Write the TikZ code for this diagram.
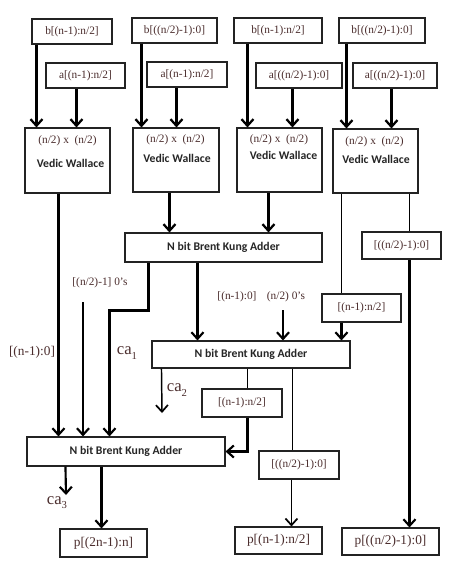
\documentclass[tikz,border=0pt]{standalone}
\usepackage{fontspec}
\setmainfont{Liberation Serif}
\newfontfamily\boldsans{Carlito}
\usetikzlibrary{arrows.meta,calc}
\definecolor{txt}{RGB}{75,45,45}
\definecolor{edge}{RGB}{35,35,35}
\newcommand\casub[1]{ca\raisebox{-0.55ex}{\fontsize{8}{8}\selectfont #1}}
\begin{document}
\begin{tikzpicture}[x=0.75pt,y=-0.75pt,
  bx/.style 2 args={draw=edge,line width=0.8pt,inner sep=0pt,minimum width=#1*0.75pt,minimum height=#2*0.75pt},
  lbl/.style={text=txt,font=\fontsize{8.5}{10}\selectfont},
  bold/.style={text=black!85,font=\boldsans\bfseries\fontsize{8.8}{10}\selectfont},
  big/.style={text=txt,font=\fontsize{10}{12}\selectfont},
  catxt/.style={text=txt,font=\fontsize{12.5}{14}\selectfont},
  arr/.style={-{Straight Barb[length=5pt,width=9pt,line width=1.7pt]},line width=1.8pt,draw=black},
  marr/.style={-{Straight Barb[length=5pt,width=9pt,line width=1.6pt]},line width=1.6pt,draw=black},
  tarr/.style={-{Straight Barb[length=5pt,width=9pt,line width=1.3pt]},line width=1.1pt,draw=black},
  ln/.style={line width=1.1pt,draw=black}]
\useasboundingbox (0,0) rectangle (474,565);
\fill[white] (0,0) rectangle (474,565);
% input boxes
\node[bx={80}{25},lbl] (b1) at (72,31.5) {b[(n-1):n/2]};
\node[bx={79}{25},lbl] (a1) at (85.5,75.5) {a[(n-1):n/2]};
\node[bx={85}{25},lbl] (b2) at (174.5,30.5) {b[((n/2)-1):0]};
\node[bx={80}{25},lbl] (a2) at (187,74.5) {a[(n-1):n/2]};
\node[bx={88}{25},lbl] (b3) at (278,30.5) {b[(n-1):n/2]};
\node[bx={86}{25},lbl] (a3) at (299,75.5) {a[((n/2)-1):0]};
\node[bx={86}{25},lbl] (b4) at (382,30.5) {b[((n/2)-1):0]};
\node[bx={84}{25},lbl] (a4) at (395,75.5) {a[((n/2)-1):0]};
% Vedic Wallace boxes
\node[bx={85}{65}] (vw1) at (67.5,160.5) {};
\node[bx={86}{64}] (vw2) at (176,160) {};
\node[bx={85}{64}] (vw3) at (279.5,160) {};
\node[bx={85}{64}] (vw4) at (375.5,161) {};
\node[lbl] (vw1a) at (67.5,141) {(n/2) x~ (n/2)};
\node[bold] (vw1b) at (70.5,163) {Vedic Wallace};
\node[lbl] (vw2a) at (175.5,140) {(n/2) x~ (n/2)};
\node[bold] (vw2b) at (177,158) {Vedic Wallace};
\node[lbl] (vw3a) at (279,140) {(n/2) x~ (n/2)};
\node[bold] (vw3b) at (283.5,155) {Vedic Wallace};
\node[lbl] (vw4a) at (374.5,142) {(n/2) x~ (n/2)};
\node[bold] (vw4b) at (376,159) {Vedic Wallace};
% adders
\node[bx={197}{29},bold] (bk1) at (223.5,247.5) {N bit Brent Kung Adder};
\node[bx={198}{27},bold] (bk2) at (251,354.5) {N bit Brent Kung Adder};
\node[bx={198}{29},bold] (bk3) at (126,451.5) {N bit Brent Kung Adder};
% intermediate boxes
\node[bx={79}{27},lbl] (r1) at (401.5,245.5) {[((n/2)-1):0]};
\node[bx={79}{28},lbl] (r2) at (361.5,308) {[(n-1):n/2]};
\node[bx={80}{28},lbl] (m1) at (242,403) {[(n-1):n/2]};
\node[bx={80}{28},lbl] (m2) at (299,465) {[((n/2)-1):0]};
% outputs
\node[bx={87}{28},big] (p1) at (103.5,543) {p[(2n-1):n]};
\node[bx={87}{27},big] (p2) at (278.5,540.5) {p[(n-1):n/2]};
\node[bx={97}{27},big] (p3) at (390.5,541.5) {p[((n/2)-1):0]};
% free labels
\node[big] (l1) at (32,352) {[(n-1):0]};
\node[lbl] (l2) at (100,283) {[(n/2)-1] 0's};
\node[lbl] (l3) at (237,297) {[(n-1):0]};
\node[lbl] (l4) at (286,297) {(n/2) 0's};
\node[catxt] (ca1) at (127,353) {\casub{1}};
\node[catxt] (ca2) at (177,390) {\casub{2}};
\node[catxt] (ca3) at (57,503) {\casub{3}};
\coordinate (z1) at (83,302);
\coordinate (z2) at (283,310);
\coordinate (c2end) at (162,413);
\coordinate (c3end) at (66,495);
% inputs to multipliers
\draw[arr] ($(b1.south west)+(5,0)$) coordinate (t) -- (t |- vw1.north);
\draw[arr] ($(a1.south west)+(31,0)$) coordinate (t) -- (t |- vw1.north);
\draw[arr] ($(b2.south west)+(10,0)$) coordinate (t) -- (t |- vw2.north);
\draw[arr] ($(a2.south west)+(30,0)$) coordinate (t) -- (t |- vw2.north);
\draw[arr] ($(b3.south west)+(14,0)$) coordinate (t) -- (t |- vw3.north);
\draw[arr] ($(a3.south west)+(37,0)$) coordinate (t) -- (t |- vw3.north);
\draw[arr] ($(b4.south west)+(8,0)$) coordinate (t) -- (t |- vw4.north);
\draw[arr] ($(a4.south west)+(39,0)$) coordinate (t) -- (t |- vw4.north);
% multipliers onward
\draw[marr] ($(vw1.south west)+(34,0)$) coordinate (t) -- (t |- bk3.north);
\draw[arr] ($(vw2.south west)+(37,0)$) coordinate (t) -- (t |- bk1.north);
\draw[arr] ($(vw3.south west)+(32,0)$) coordinate (t) -- (t |- bk1.north);
\draw[ln] ($(vw4.south west)+(9,0)$) coordinate (t) -- (t |- r2.north);
\draw[ln] ($(vw4.south west)+(77,0)$) coordinate (t) -- (t |- r1.north);
\draw[marr] ($(r2.south west)+(20,0)$) coordinate (t) -- (t |- bk2.north);
\draw[marr] ($(r1.south west)+(48,0)$) coordinate (t) -- (t |- p3.north);
% adder 1 outputs
\draw[marr] ($(bk1.south west)+(24,0)$) -- ++(0,48) -| ($(bk3.north west)+(83,0)$);
\draw[marr] ($(bk1.south west)+(73,0)$) coordinate (t) -- (t |- bk2.north);
\draw[marr] (z1) -- (z1 |- bk3.north);
\draw[marr] (z2) -- (z2 |- bk2.north);
% adder 2 outputs
\draw[tarr] ($(bk2.south west)+(10,0)$) -- (c2end);
\draw[ln] ($(bk2.south west)+(96,0)$) coordinate (t) -- (t |- m1.north);
\draw[marr] ($(m1.south west)+(46,0)$) |- (bk3.east);
\draw[ln] ($(bk2.south west)+(141,0)$) coordinate (t) -- (t |- m2.north);
\draw[tarr] ($(m2.south west)+(33,0)$) coordinate (t) -- (t |- p2.north);
% adder 3 outputs
\draw[marr] ($(bk3.south west)+(39,0)$) -- (c3end);
\draw[marr] ($(bk3.south west)+(75,0)$) coordinate (t) -- (t |- p1.north);
\end{tikzpicture}
\end{document}
